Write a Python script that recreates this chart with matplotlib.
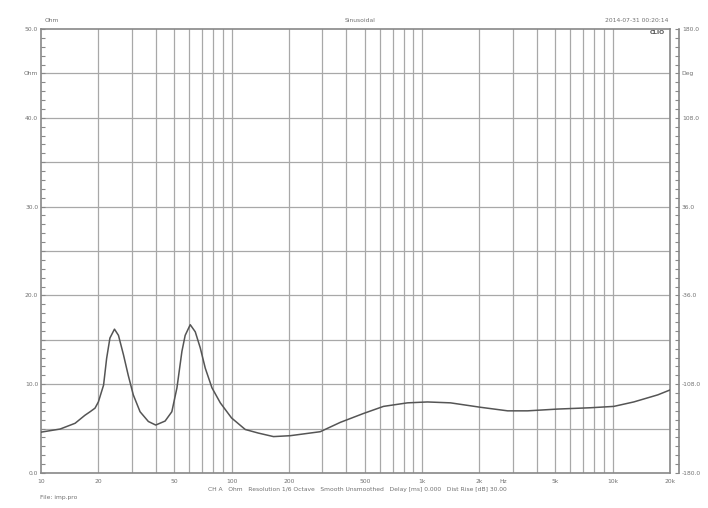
import numpy as np
import matplotlib
matplotlib.use("Agg")
import matplotlib.pyplot as plt
from matplotlib.ticker import FixedLocator, NullFormatter, FixedFormatter

# impedance curve (Hz, Ohm)
freq = [10, 12.6, 15.1, 17.0, 18.1, 19.2, 20.0, 21.3, 22.1, 23.0, 24.3, 25.5,
        27.1, 28.7, 30.5, 33.1, 36.6, 40, 44.8, 48.6, 51.7, 54.9, 57.1, 60.7,
        64.5, 68.5, 72.8, 78.9, 87.3, 100, 118, 138, 166, 203, 292, 372, 492,
        627, 838, 1067, 1409, 2027, 2812, 3580, 5150, 7680, 10140, 12900,
        17260, 20000]
ohm = [4.6, 4.95, 5.6, 6.5, 6.9, 7.3, 8.0, 9.9, 12.9, 15.2, 16.2, 15.5,
       13.3, 11.0, 8.8, 6.9, 5.8, 5.4, 5.85, 6.9, 9.6, 13.7, 15.5, 16.7,
       15.9, 14.1, 11.8, 9.6, 7.9, 6.2, 4.9, 4.5, 4.1, 4.2, 4.65, 5.7, 6.7,
       7.5, 7.9, 8.0, 7.9, 7.4, 7.0, 7.0, 7.2, 7.35, 7.5, 8.0, 8.8, 9.35]

x_ticks = [10, 20, 50, 100, 200, 500, 1000, 2000, 5000, 10000, 20000]
x_labels = ["10", "20", "50", "100", "200", "500", "1k", "2k", "5k", "10k", "20k"]
y_ticks = [0, 10, 20, 30, 40, 45, 50]
y_labels = ["0.0", "10.0", "20.0", "30.0", "40.0", "Ohm", "50.0"]
deg_ticks = [-180, -108, -36, 36, 108, 144, 180]
deg_labels = ["-180.0", "-108.0", "-36.0", "36.0", "108.0", "Deg", "180.0"]

TXT = "#707070"
GRID = "#a8a8a8"
FS = 4.3

fig = plt.figure(figsize=(7.08, 5.08), dpi=100)
ax = fig.add_axes([41 / 708, 1 - 473 / 508, 629 / 708, 444 / 508])

ax.set_xscale("log")
ax.set_xlim(10, 20000)
ax.set_ylim(0, 50)

# log grid: every 1..9 multiple of each decade
grid_x = [m * 10 ** d for d in range(1, 5) for m in range(1, 10) if m * 10 ** d <= 20000]
for gx in grid_x[1:]:
    ax.axvline(gx, color=GRID, lw=0.9, zorder=1)
for gy in range(5, 50, 5):
    ax.axhline(gy, color=GRID, lw=0.9, zorder=1)

ax.plot(freq, ohm, color="#555555", lw=1.1, zorder=3)

ax.xaxis.set_major_locator(FixedLocator(x_ticks))
ax.xaxis.set_major_formatter(FixedFormatter(x_labels))
ax.xaxis.set_minor_formatter(NullFormatter())
ax.tick_params(axis="x", which="both", length=0, labelsize=FS, labelcolor=TXT, pad=4)
# unit label sits on the tick label row
ax.text(2680, -0.62, "Hz", ha="center", va="top", fontsize=FS, color=TXT)

ax.yaxis.set_major_locator(FixedLocator(y_ticks))
ax.yaxis.set_major_formatter(FixedFormatter(y_labels))
ax.yaxis.set_minor_locator(FixedLocator(np.arange(0, 51, 1)))
ax.tick_params(axis="y", which="both", direction="in", length=3, width=0.8,
               color="#888888", labelsize=FS, labelcolor=TXT, pad=2)

for s in ax.spines.values():
    s.set_color("#888888")
    s.set_linewidth(1.2)

# phase axis on the right, offset a bit from the frame
ax2 = ax.twinx()
ax2.set_ylim(-180, 180)
ax2.spines["right"].set_position(("outward", 6.5))
ax2.spines["right"].set_color("#888888")
ax2.spines["right"].set_linewidth(1.2)
for k in ["left", "top", "bottom"]:
    ax2.spines[k].set_visible(False)
ax2.yaxis.set_major_locator(FixedLocator(deg_ticks))
ax2.yaxis.set_major_formatter(FixedFormatter(deg_labels))
ax2.yaxis.set_minor_locator(FixedLocator(np.arange(-180, 180.1, 7.2)))
ax2.tick_params(axis="y", which="both", direction="in", length=3, width=0.8,
                color="#888888", labelsize=FS, labelcolor=TXT, pad=2)

# header / footer texts
fig.text(45 / 708, 1 - 20 / 508, "Ohm", fontsize=FS, color=TXT, va="center")
fig.text(360 / 708, 1 - 20 / 508, "Sinusoidal", fontsize=FS, color=TXT, ha="center", va="center")
fig.text(668 / 708, 1 - 20 / 508, "2014-07-31 00:20:14", fontsize=FS, color=TXT, ha="right", va="center")
fig.text(665 / 708, 1 - 33 / 508, "CLIO", fontsize=FS, color="#555555", ha="right", va="center",
         fontweight="bold")
fig.text(357 / 708, 1 - 489 / 508,
         "CH A   Ohm   Resolution 1/6 Octave   Smooth Unsmoothed   Delay [ms] 0.000   Dist Rise [dB] 30.00",
         fontsize=FS, color=TXT, ha="center", va="center")
fig.text(40 / 708, 1 - 497 / 508, "File: imp.pro", fontsize=FS, color=TXT, va="center")

fig.savefig("out.png", dpi=100)
